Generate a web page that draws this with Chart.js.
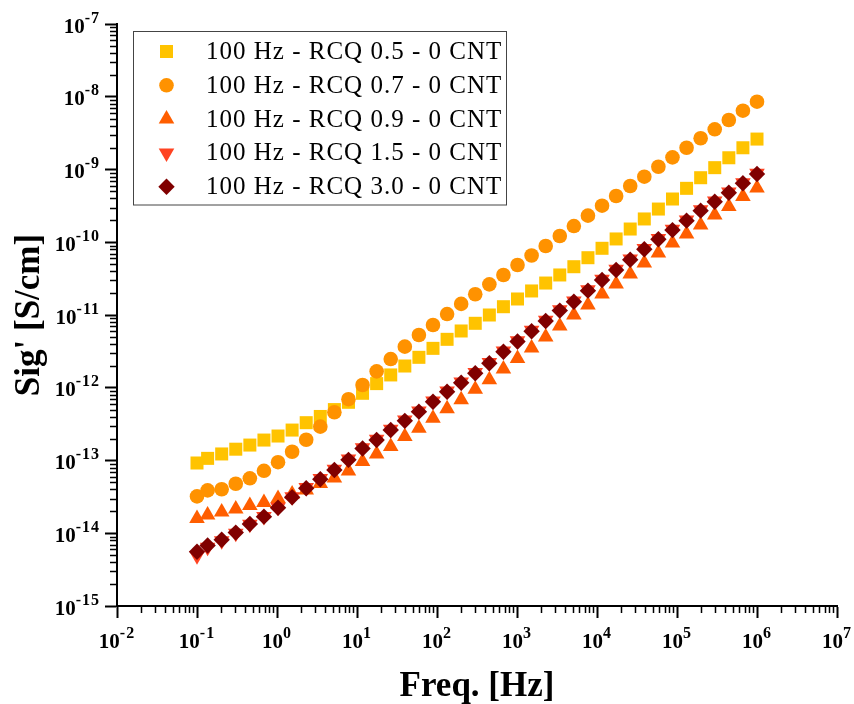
<!DOCTYPE html>
<html>
<head>
<meta charset="utf-8">
<script src="https://cdn.jsdelivr.net/npm/chart.js@4/dist/chart.umd.min.js"></script>
<style>
  body { margin: 0; background: #fff; }
  #chart { display: block; }
</style>
</head>
<body>
<canvas id="chart" width="854" height="704"></canvas>
<script>
// frequency sweep [Hz]
const freq = [0.1, 0.1357, 0.2035, 0.3052, 0.4579, 0.6868, 1.030, 1.545, 2.318, 3.477, 5.215,
  7.823, 11.73, 17.60, 26.40, 39.60, 59.40, 89.10, 133.7, 200.5, 300.7, 451.1, 676.6, 1015,
  1522, 2284, 3425, 5138, 7707, 11561, 17342, 26012, 39018, 58528, 87791, 131687, 197531,
  296296, 444444, 666667, 1000000];

// Sig' [S/cm]
const rcq05 = [9.24e-14, 1.07e-13, 1.23e-13, 1.43e-13, 1.63e-13, 1.91e-13, 2.17e-13, 2.62e-13,
  3.31e-13, 4.03e-13, 5.01e-13, 6.31e-13, 8.39e-13, 1.14e-12, 1.50e-12, 1.99e-12, 2.62e-12,
  3.48e-12, 4.63e-12, 6.03e-12, 7.69e-12, 1.00e-11, 1.30e-11, 1.66e-11, 2.14e-11, 2.75e-11,
  3.55e-11, 4.61e-11, 6.13e-11, 8.26e-11, 1.11e-10, 1.52e-10, 2.09e-10, 2.86e-10, 3.93e-10,
  5.51e-10, 7.71e-10, 1.06e-9, 1.45e-9, 1.99e-9, 2.62e-9];
const rcq07 = [3.21e-14, 3.88e-14, 4.03e-14, 4.79e-14, 5.69e-14, 7.22e-14, 9.48e-14, 1.32e-13,
  1.93e-13, 2.92e-13, 4.61e-13, 6.96e-13, 1.09e-12, 1.68e-12, 2.48e-12, 3.67e-12, 5.31e-12,
  7.29e-12, 1.03e-11, 1.42e-11, 1.93e-11, 2.64e-11, 3.55e-11, 4.87e-11, 6.58e-11, 8.88e-11,
  1.22e-10, 1.67e-10, 2.32e-10, 3.18e-10, 4.32e-10, 5.93e-10, 7.96e-10, 1.09e-9, 1.47e-9,
  1.99e-9, 2.69e-9, 3.57e-9, 4.79e-9, 6.43e-9, 8.55e-9];
const rcq09 = [1.59e-14, 1.78e-14, 1.96e-14, 2.15e-14, 2.41e-14, 2.65e-14, 3.00e-14, 3.46e-14,
  3.93e-14, 4.83e-14, 5.75e-14, 7.17e-14, 9.69e-14, 1.23e-13, 1.56e-13, 2.14e-13, 2.78e-13,
  3.81e-13, 5.14e-13, 6.83e-13, 9.55e-13, 1.29e-12, 1.81e-12, 2.52e-12, 3.52e-12, 4.99e-12,
  7.06e-12, 1.00e-11, 1.37e-11, 1.94e-11, 2.67e-11, 3.66e-11, 5.19e-11, 7.12e-11, 9.76e-11,
  1.30e-10, 1.73e-10, 2.37e-10, 3.10e-10, 4.25e-10, 5.57e-10];
const rcq15 = [4.9e-15, 6.4e-15, 7.9e-15, 1.0e-14, 1.33e-14, 1.7e-14, 2.27e-14, 3.18e-14,
  4.25e-14, 5.65e-14, 7.6e-14, 1.05e-13, 1.5e-13, 1.96e-13, 2.69e-13, 3.6e-13, 4.8e-13,
  6.6e-13, 9.05e-13, 1.2e-12, 1.62e-12, 2.23e-12, 3.21e-12, 4.44e-12, 6.15e-12, 8.5e-12,
  1.18e-11, 1.56e-11, 2.22e-11, 3.1e-11, 4.27e-11, 5.9e-11, 8.2e-11, 1.13e-10, 1.51e-10,
  2.03e-10, 2.8e-10, 3.7e-10, 4.9e-10, 6.6e-10, 8.9e-10];
const rcq30 = [5.58e-15, 6.79e-15, 8.15e-15, 1.02e-14, 1.34e-14, 1.69e-14, 2.24e-14, 3.12e-14,
  4.15e-14, 5.52e-14, 7.40e-14, 1.02e-13, 1.46e-13, 1.91e-13, 2.62e-13, 3.51e-13, 4.69e-13,
  6.43e-13, 8.82e-13, 1.17e-12, 1.58e-12, 2.17e-12, 3.13e-12, 4.32e-12, 5.99e-12, 8.27e-12,
  1.15e-11, 1.52e-11, 2.16e-11, 3.03e-11, 4.16e-11, 5.74e-11, 8.00e-11, 1.10e-10, 1.47e-10,
  1.98e-10, 2.72e-10, 3.61e-10, 4.80e-10, 6.46e-10, 8.67e-10];

const labels = ["100 Hz - RCQ 0.5 - 0 CNT", "100 Hz - RCQ 0.7 - 0 CNT", "100 Hz - RCQ 0.9 - 0 CNT",
  "100 Hz - RCQ 1.5 - 0 CNT", "100 Hz - RCQ 3.0 - 0 CNT"];
const series = [rcq05, rcq07, rcq09, rcq15, rcq30];
const xExps = [-2, -1, 0, 1, 2, 3, 4, 5, 6, 7];
const yExps = [-15, -14, -13, -12, -11, -10, -9, -8, -7];

const styles = [
  { color: "#FFC300", pointStyle: "rect", radius: 9.2, rotation: 0 },
  { color: "#FF9200", pointStyle: "circle", radius: 7.3, rotation: 0 },
  { color: "#FF5E00", pointStyle: "triangle", radius: 9, rotation: 0 },
  { color: "#FF4322", pointStyle: "triangle", radius: 9, rotation: 180 },
  { color: "#800000", pointStyle: "rectRot", radius: 8.2, rotation: 0 },
];

const datasets = series.map((vals, i) => ({
  label: labels[i],
  data: vals.map((v, j) => ({ x: freq[j], y: v })),
  showLine: false,
  pointStyle: styles[i].pointStyle,
  pointRotation: styles[i].rotation,
  pointRadius: styles[i].radius,
  pointHoverRadius: styles[i].radius,
  pointBorderWidth: 0,
  backgroundColor: styles[i].color,
  borderColor: styles[i].color,
  order: series.length - i, // later series on top
}));

const SERIF = '"Liberation Serif", "Times New Roman", serif';

function majorTicks(exps) {
  return (scale) => { scale.ticks = exps.map(e => ({ value: Number("1e" + e), major: true })); };
}

function drawPower(ctx, e, x, y, align) {
  // "10" with superscript exponent; y is baseline of "10"
  const hasLS = "letterSpacing" in ctx;
  ctx.font = "bold 21px " + SERIF;
  const w10 = ctx.measureText("10").width;
  ctx.font = "bold 16px " + SERIF;
  if (hasLS) ctx.letterSpacing = "1px";
  const exp = String(e);
  const we = ctx.measureText(exp).width;
  if (hasLS) ctx.letterSpacing = "0px";
  let x0 = align === "center" ? x - (w10 + we) / 2 : x - (w10 + we);
  ctx.textAlign = "left";
  ctx.textBaseline = "alphabetic";
  ctx.font = "bold 21px " + SERIF;
  ctx.fillText("10", x0, y);
  ctx.font = "bold 16px " + SERIF;
  if (hasLS) ctx.letterSpacing = "1px";
  ctx.fillText(exp, x0 + w10, y - 10);
  if (hasLS) ctx.letterSpacing = "0px";
}

const axesDeco = {
  id: "axesDeco",
  afterDraw(chart) {
    const ctx = chart.ctx;
    const xs = chart.scales.x, ys = chart.scales.y;
    const area = chart.chartArea;
    ctx.save();
    ctx.strokeStyle = "#000";
    ctx.fillStyle = "#000";
    // minor ticks
    ctx.lineWidth = 1.5;
    ctx.beginPath();
    for (let i = 0; i < xExps.length - 1; i++) {
      for (let k = 2; k <= 9; k++) {
        const px = Math.round(xs.getPixelForValue(k * Number("1e" + xExps[i]))) + 0.5;
        ctx.moveTo(px, area.bottom);
        ctx.lineTo(px, area.bottom + 7);
      }
    }
    for (let i = 0; i < yExps.length - 1; i++) {
      for (let k = 2; k <= 9; k++) {
        const py = Math.round(ys.getPixelForValue(k * Number("1e" + yExps[i]))) + 0.5;
        ctx.moveTo(area.left, py);
        ctx.lineTo(area.left - 7, py);
      }
    }
    ctx.stroke();

    // tick labels
    xExps.forEach(e => drawPower(ctx, e, xs.getPixelForValue(Number("1e" + e)), area.bottom + 42, "center"));
    yExps.forEach(e => drawPower(ctx, e, area.left - 17, ys.getPixelForValue(Number("1e" + e)) + 8.5, "right"));

    // axis titles
    ctx.font = "bold 35px " + SERIF;
    ctx.textAlign = "center";
    ctx.textBaseline = "alphabetic";
    ctx.fillText("Freq. [Hz]", (area.left + area.right) / 2, 696);
    ctx.save();
    ctx.translate(39, (area.top + area.bottom) / 2);
    ctx.rotate(-Math.PI / 2);
    ctx.fillText("Sig' [S/cm]", 0, 0);
    ctx.restore();

    // legend
    const lx = 133.5, ly = 31.5, lw = 373, lh = 173.5;
    ctx.lineWidth = 1;
    ctx.strokeStyle = "#444";
    ctx.strokeRect(lx, ly, lw, lh);
    ctx.font = "25px " + SERIF;
    if ("letterSpacing" in ctx) ctx.letterSpacing = "1px";
    ctx.textAlign = "left";
    ctx.textBaseline = "middle";
    labels.forEach((lab, i) => {
      const cy = 51.5 + i * 33.8;
      const st = styles[i];
      ctx.fillStyle = st.color;
      ctx.strokeStyle = st.color;
      Chart.helpers.drawPoint(ctx, { pointStyle: st.pointStyle, radius: st.radius, rotation: st.rotation, borderWidth: 0 }, 166.5, cy);
      ctx.fillStyle = "#000";
      ctx.fillText(lab, 206, cy + 1);
    });
    ctx.restore();
  }
};

const axisOpts = (exps) => ({
  type: "logarithmic",
  min: Number("1e" + exps[0]),
  max: Number("1e" + exps[exps.length - 1]),
  afterBuildTicks: majorTicks(exps),
  ticks: { display: false },
  grid: { display: true, drawOnChartArea: false, drawTicks: true, tickLength: 12, tickWidth: 2, tickColor: "#000" },
  border: { display: true, color: "#000", width: 2 },
  title: { display: false },
});

new Chart(document.getElementById("chart").getContext("2d"), {
  type: "scatter",
  data: { datasets },
  options: {
    responsive: false,
    animation: false,
    layout: { padding: { left: 105, right: 17, top: 24, bottom: 86 } },
    plugins: { legend: { display: false }, tooltip: { enabled: false } },
    scales: {
      x: Object.assign(axisOpts(xExps), { position: "bottom" }),
      y: Object.assign(axisOpts(yExps), { position: "left" }),
    },
  },
  plugins: [axesDeco],
});
</script>
</body>
</html>
